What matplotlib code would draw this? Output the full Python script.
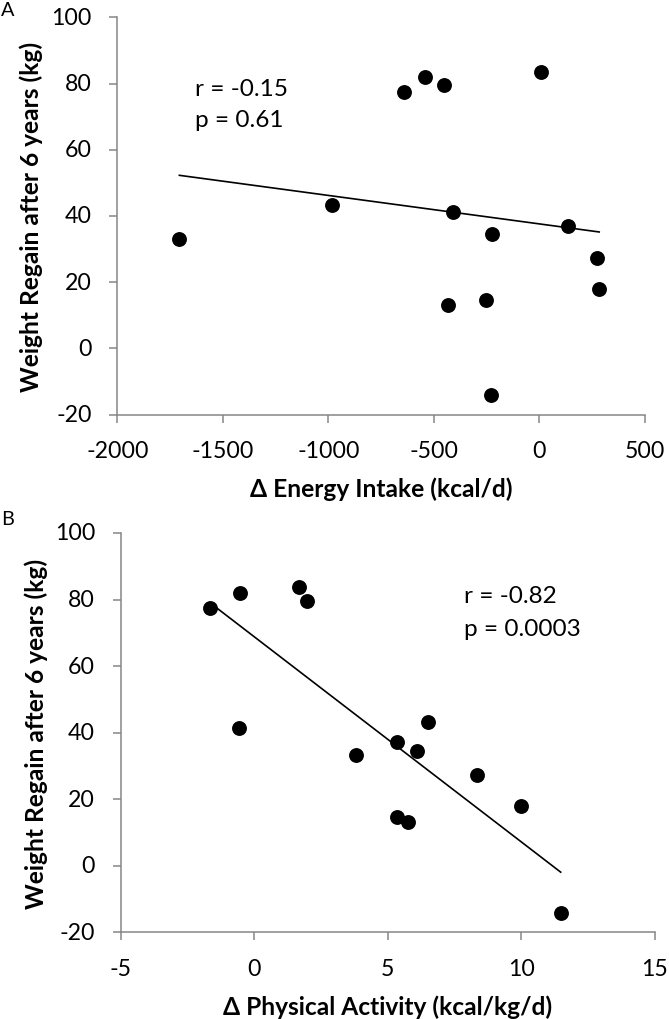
import numpy as np
import matplotlib
matplotlib.use("Agg")
import matplotlib.pyplot as plt

plt.rcParams['font.family'] = ['Lato', 'DejaVu Sans']
plt.rcParams['axes.unicode_minus'] = False

# Panel A: change in energy intake vs weight regain
energy_intake = [-1706, -982, -640, -543, -454, -409, -433, -253, -225, -231, 8, 135, 271, 283]
regain_a = [33.2, 43.2, 77.5, 82.0, 79.7, 41.2, 13.1, 14.7, 34.6, -14.2, 83.6, 37.1, 27.4, 18.0]

# Panel B: change in physical activity vs weight regain
physical_activity = [-1.65, -0.54, -0.56, 1.69, 1.98, 3.80, 5.35, 5.34, 5.75, 6.10, 6.50, 8.34, 10.0, 11.47]
regain_b = [77.6, 81.9, 41.3, 83.7, 79.7, 33.3, 37.1, 14.6, 13.0, 34.6, 43.3, 27.4, 18.1, -14.3]

stats_a = ["r = -0.15", "p = 0.61"]
stats_b = ["r = -0.82", "p = 0.0003"]
ylabel = 'Weight Regain after 6 years (kg)'

axis_col = '#868686'

fig = plt.figure(figsize=(6.69, 10.2), dpi=100)
W, H = 669, 1020
renderer = fig.canvas.get_renderer()


def fit_size(txt, width_px, **kw):
    # font size that makes txt about width_px wide
    t = fig.text(0, 0, txt, fontsize=10, **kw)
    w = t.get_window_extent(renderer).width
    t.remove()
    return 10 * width_px / w


tick_fs = fit_size('-2000', 62)
label_fs = fit_size(ylabel, 350, fontweight='bold')
stat_fs = fit_size('r = -0.15', 92.6)
letter_fs = tick_fs * 0.86

ax_a = fig.add_axes([117.3 / W, 1 - 415.7 / H, (645 - 117.3) / W, (415.7 - 18.3) / H])
ax_b = fig.add_axes([120.7 / W, 1 - 933.3 / H, (655 - 120.7) / W, (933.3 - 534) / H])


def style(ax, xs, ys, xlim, xticks, xlabel, stats, tx, ty, ylab_x):
    ax.scatter(xs, ys, s=115, color='black', zorder=3, linewidths=0)
    k, b = np.polyfit(xs, ys, 1)
    lx = np.array([min(xs), max(xs)])
    ax.plot(lx, k * lx + b, color='black', lw=1.2, zorder=2)
    ax.set_xlim(*xlim)
    ax.set_ylim(-20, 100)
    ax.set_xticks(xticks)
    ax.set_yticks(range(-20, 101, 20))
    for s in ['top', 'right']:
        ax.spines[s].set_visible(False)
    for s in ['left', 'bottom']:
        ax.spines[s].set_color(axis_col)
        ax.spines[s].set_linewidth(1.1)
    ax.tick_params(colors=axis_col, length=6, width=1.1, labelcolor='black',
                   labelsize=tick_fs)
    ax.tick_params(axis='y', pad=12.5)
    ax.tick_params(axis='x', pad=20)
    for lab in ax.get_xticklabels():
        lab.set_va('center')
    for lab in ax.get_yticklabels():
        lab.set_va('center')
    ax.set_xlabel(xlabel, fontsize=label_fs, fontweight='bold', va='center')
    ax.xaxis.set_label_coords(0.5, -0.186)
    ax.set_ylabel(ylabel, fontsize=label_fs, fontweight='bold', va='center')
    ax.yaxis.set_label_coords(ylab_x, 0.5)
    ax.text(tx, ty[0], stats[0], transform=ax.transAxes, fontsize=stat_fs, va='center')
    ax.text(tx, ty[1], stats[1], transform=ax.transAxes, fontsize=stat_fs, va='center')


style(ax_a, energy_intake, regain_a, (-2000, 500), range(-2000, 501, 500),
      '\u0394 Energy Intake (kcal/d)', stats_a, 0.148, (0.821, 0.742), -0.1635)
style(ax_b, physical_activity, regain_b, (-5, 15), range(-5, 16, 5),
      '\u0394 Physical Activity (kcal/kg/d)', stats_b, 0.643, (0.843, 0.76), -0.1585)

fig.text(1 / W, 1 - 2 / H, 'A', fontsize=letter_fs, va='top', ha='left')
fig.text(1 / W, 1 - 511 / H, 'B', fontsize=letter_fs, va='top', ha='left')

fig.savefig('out.png', dpi=100)
